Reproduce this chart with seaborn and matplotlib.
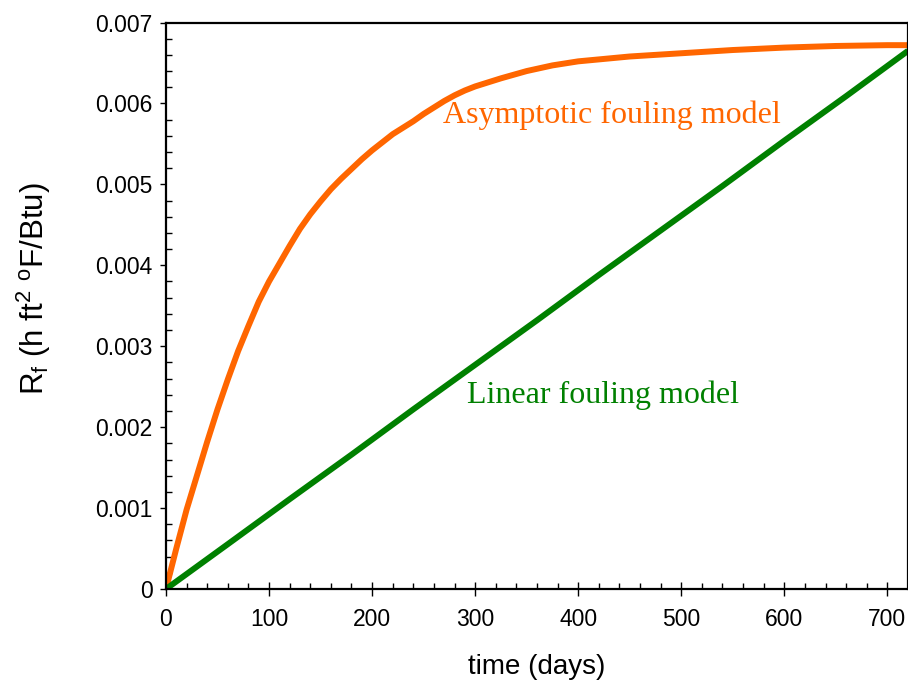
import matplotlib
matplotlib.use("Agg")
import matplotlib.pyplot as plt
from matplotlib.ticker import MultipleLocator
import pandas as pd
import seaborn as sns

# Asymptotic fouling resistance versus time
asym_days = [0, 5, 10, 20, 30, 40, 50, 60, 70, 80, 90, 100, 110, 120, 130,
             140, 150, 160, 170, 180, 190, 200, 210, 220, 230, 240, 250, 260,
             270, 280, 290, 300, 325, 350, 375, 400, 450, 500, 550, 600, 650,
             700, 720]
asym_rf = [0.0, 0.00025, 0.00050, 0.00098, 0.00140, 0.00182, 0.00222, 0.00259,
           0.00294, 0.00325, 0.00355, 0.00380, 0.00402, 0.00424, 0.00445,
           0.00463, 0.00479, 0.00494, 0.00507, 0.00519, 0.00531, 0.00542,
           0.00552, 0.00562, 0.00570, 0.00578, 0.00587, 0.00595, 0.00603,
           0.00610, 0.00616, 0.00621, 0.00631, 0.00640, 0.00647, 0.00652,
           0.00658, 0.00662, 0.00666, 0.00669, 0.00671, 0.00672, 0.00672]

# Linear fouling resistance versus time
lin_days = [0, 60, 120, 180, 240, 300, 360, 420, 480, 540, 600, 660, 720]
lin_rf = [0.0, 0.000554, 0.00111, 0.00166, 0.00222, 0.00277, 0.00332,
          0.00388, 0.00443, 0.00498, 0.00554, 0.00609, 0.00665]

x_ticks = [0, 100, 200, 300, 400, 500, 600, 700]
y_ticks = [0, 0.001, 0.002, 0.003, 0.004, 0.005, 0.006, 0.007]
y_ticklabels = ["0", "0.001", "0.002", "0.003", "0.004", "0.005", "0.006",
                "0.007"]

ORANGE = "#FF6600"
GREEN = "#008000"

sns.set_theme(style="white")
plt.rcParams["font.family"] = ["Liberation Sans", "DejaVu Sans"]
plt.rcParams["mathtext.default"] = "regular"
plt.rcParams["xtick.minor.visible"] = True
plt.rcParams["ytick.minor.visible"] = True

asym = pd.DataFrame({"days": asym_days, "rf": asym_rf})
lin = pd.DataFrame({"days": lin_days, "rf": lin_rf})

fig = plt.figure(figsize=(9.08, 6.84), dpi=100)
ax = fig.add_axes([0.1828, 0.1389, 0.8172, 0.8282])

sns.lineplot(data=asym, x="days", y="rf", color=ORANGE, linewidth=4.3,
             ax=ax, solid_capstyle="butt")
sns.lineplot(data=lin, x="days", y="rf", color=GREEN, linewidth=4.3,
             ax=ax, solid_capstyle="butt")

ax.set_xlim(0, 720)
ax.set_ylim(0, 0.007)
ax.set_xticks(x_ticks)
ax.set_yticks(y_ticks)
ax.set_yticklabels(y_ticklabels)
ax.xaxis.set_minor_locator(MultipleLocator(20))
ax.yaxis.set_minor_locator(MultipleLocator(0.0002))

ax.tick_params(axis="x", which="major", direction="inout", length=10,
               width=1, colors="black", labelsize=16.5, pad=9, bottom=True)
ax.tick_params(axis="x", which="minor", direction="in", length=4.5,
               width=1, colors="black", bottom=True)
ax.tick_params(axis="y", which="major", direction="out", length=4.5,
               width=1, colors="black", labelsize=16.5, pad=5, left=True)
ax.tick_params(axis="y", which="minor", direction="in", length=4.5,
               width=1, colors="black", left=True)

for side in ["left", "bottom", "top", "right"]:
    ax.spines[side].set_color("black")
    ax.spines[side].set_linewidth(1.6)

ax.set_xlabel("time (days)", fontsize=20, labelpad=16, color="black")
ax.set_ylabel(r"R$_f$ (h ft$^2$ $^o$F/Btu)", fontsize=22.5, color="black")
ax.yaxis.set_label_coords(-0.152, 0.53)

ax.text(269, 0.00576, "Asymptotic fouling model", color=ORANGE,
        fontsize=23, family=["Liberation Serif", "DejaVu Serif"],
        ha="left", va="baseline")
ax.text(292, 0.00230, "Linear fouling model", color=GREEN,
        fontsize=23, family=["Liberation Serif", "DejaVu Serif"],
        ha="left", va="baseline")

fig.savefig("out.png", dpi=100)
